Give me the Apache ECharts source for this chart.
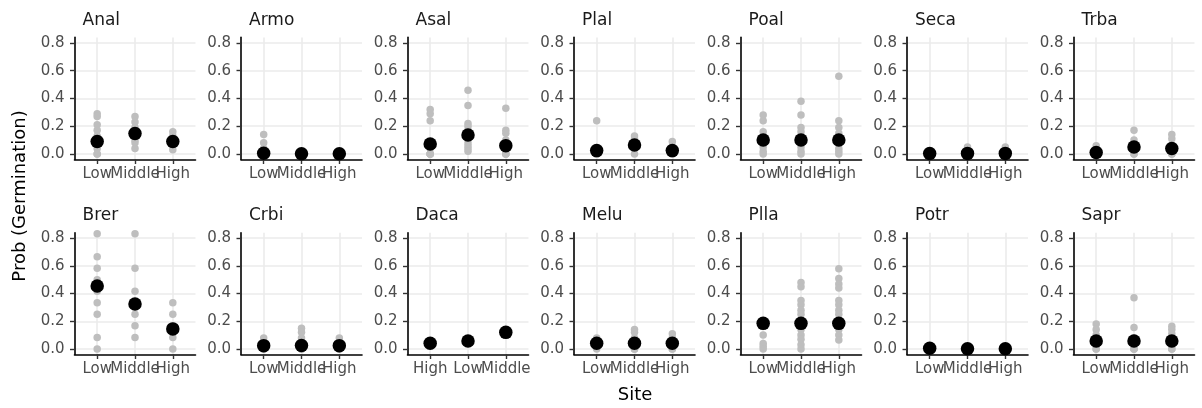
<!DOCTYPE html>
<html>
<head>
<meta charset="utf-8">
<script src="https://cdn.jsdelivr.net/npm/echarts@6/dist/echarts.min.js"></script>
<style>
  html, body { margin: 0; padding: 0; background: #ffffff; }
  #chart { width: 1202px; height: 408px; }
</style>
</head>
<body>
<div id="chart"></div>
<script>
// Species panels, laid out in two rows of seven
const species = ['Anal', 'Armo', 'Asal', 'Plal', 'Poal', 'Seca', 'Trba',
                 'Brer', 'Crbi', 'Daca', 'Melu', 'Plla', 'Potr', 'Sapr'];

// Site order on the x axis (Daca has its own level order)
const siteOrder = ['Low', 'Middle', 'High'];
const siteOrderDaca = ['High', 'Low', 'Middle'];

// y axis tick values
const yTicks = [0, 0.2, 0.4, 0.6, 0.8];

// Observed germination proportions, one list per site (in that panel's site order)
const Anal_obs = [[0.29, 0.27, 0.21, 0.17, 0.13, 0.08, 0.04, 0, 0],
                  [0.27, 0.23, 0.19, 0.17, 0.13, 0.10, 0.08, 0.04],
                  [0.16, 0.13, 0.11, 0.08, 0.06, 0.03]];
const Armo_obs = [[0.14, 0.08, 0.04, 0, 0, 0], [0, 0, 0], [0, 0, 0]];
const Asal_obs = [[0.32, 0.29, 0.24, 0.04, 0, 0, 0, 0],
                  [0.46, 0.35, 0.22, 0.20, 0.17, 0.14, 0.11, 0.08, 0.06, 0.04, 0.02],
                  [0.33, 0.17, 0.15, 0.10, 0.04, 0, 0, 0]];
const Plal_obs = [[0.24, 0, 0, 0, 0], [0.13, 0.11, 0.08, 0.06, 0.04, 0], [0.09, 0.04, 0, 0]];
const Poal_obs = [[0.28, 0.24, 0.16, 0.12, 0.08, 0.05, 0.02, 0],
                  [0.38, 0.28, 0.19, 0.16, 0.12, 0.05, 0.02, 0],
                  [0.56, 0.24, 0.19, 0.15, 0.10, 0.04, 0.02, 0]];
const Seca_obs = [[0, 0, 0], [0.05, 0, 0], [0.05, 0, 0]];
const Trba_obs = [[0.06, 0.02, 0, 0, 0], [0.17, 0.10, 0.08, 0.04, 0, 0], [0.14, 0.11, 0.06, 0.02, 0, 0]];
const Brer_obs = [[0.833, 0.667, 0.583, 0.5, 0.417, 0.333, 0.25, 0.083, 0],
                  [0.833, 0.583, 0.417, 0.333, 0.25, 0.167, 0.083],
                  [0.333, 0.25, 0.167, 0.083, 0]];
const Crbi_obs = [[0.08, 0.04, 0, 0], [0.15, 0.12, 0.08, 0.04, 0, 0, 0], [0.08, 0.04, 0, 0]];
const Daca_obs = [[0.04], [0.058], [0.12]];
const Melu_obs = [[0.08, 0.04, 0], [0.14, 0.12, 0.08, 0.04, 0, 0, 0], [0.11, 0.08, 0.04, 0, 0]];
const Plla_obs = [[0.10, 0.04, 0.02, 0],
                  [0.48, 0.45, 0.35, 0.32, 0.28, 0.25, 0.20, 0.14, 0.10, 0.07, 0.03, 0],
                  [0.58, 0.51, 0.47, 0.44, 0.35, 0.32, 0.28, 0.25, 0.20, 0.14, 0.10, 0.065]];
const Potr_obs = [[0, 0, 0], [0, 0, 0], [0, 0, 0]];
const Sapr_obs = [[0.18, 0.14, 0.10, 0.06, 0.03, 0, 0],
                  [0.37, 0.155, 0.08, 0.04, 0, 0, 0],
                  [0.165, 0.14, 0.11, 0.06, 0.03, 0, 0]];

// Estimated germination probability per site (black points)
const Anal_fit = [0.089, 0.148, 0.090];
const Armo_fit = [0.005, 0.002, 0.002];
const Asal_fit = [0.072, 0.136, 0.060];
const Plal_fit = [0.024, 0.065, 0.024];
const Poal_fit = [0.100, 0.100, 0.100];
const Seca_fit = [0.003, 0.004, 0.004];
const Trba_fit = [0.010, 0.050, 0.040];
const Brer_fit = [0.455, 0.325, 0.145];
const Crbi_fit = [0.024, 0.025, 0.024];
const Daca_fit = [0.041, 0.058, 0.120];
const Melu_fit = [0.041, 0.041, 0.041];
const Plla_fit = [0.185, 0.185, 0.185];
const Potr_fit = [0.005, 0.001, 0.001];
const Sapr_fit = [0.058, 0.058, 0.058];

const observed = { Anal: Anal_obs, Armo: Armo_obs, Asal: Asal_obs, Plal: Plal_obs, Poal: Poal_obs,
  Seca: Seca_obs, Trba: Trba_obs, Brer: Brer_obs, Crbi: Crbi_obs, Daca: Daca_obs, Melu: Melu_obs,
  Plla: Plla_obs, Potr: Potr_obs, Sapr: Sapr_obs };
const fitted = { Anal: Anal_fit, Armo: Armo_fit, Asal: Asal_fit, Plal: Plal_fit, Poal: Poal_fit,
  Seca: Seca_fit, Trba: Trba_fit, Brer: Brer_fit, Crbi: Crbi_fit, Daca: Daca_fit, Melu: Melu_fit,
  Plla: Plla_fit, Potr: Potr_fit, Sapr: Sapr_fit };

const FONT = "'DejaVu Sans', 'Liberation Sans', sans-serif";
const GRID_COLOR = '#ebebeb';
const X_MIN = -0.6, X_MAX = 2.6;

const grids = [], xAxes = [], yAxes = [], series = [], texts = [];

species.forEach((sp, i) => {
  const row = Math.floor(i / 7);
  const col = i % 7;
  const left = 74.5 + col * 166.5;
  const top = row === 0 ? 37.4 : 232.7;
  const height = row === 0 ? 122.1 : 121.8;
  const sites = sp === 'Daca' ? siteOrderDaca : siteOrder;

  grids.push({ left: left, top: top, width: 121, height: height, containLabel: false });

  // Main x axis: line, ticks and vertical grid lines
  const mainX = xAxes.length;
  xAxes.push({
    type: 'value', gridIndex: i, min: X_MIN, max: X_MAX, position: 'bottom',
    axisLine: { show: true, onZero: false, lineStyle: { color: '#000', width: 1.6 } },
    axisTick: { show: true, customValues: [0, 1, 2], length: 4.5, lineStyle: { color: '#333', width: 1.4 } },
    axisLabel: { show: false },
    splitLine: { show: true, lineStyle: { color: GRID_COLOR, width: 1.6 } }
  });
  // One label-only axis per site so the crowded site names all stay visible
  sites.forEach((name, k) => {
    xAxes.push({
      type: 'value', gridIndex: i, min: X_MIN, max: X_MAX, position: 'bottom', offset: 0,
      axisLine: { show: false, onZero: false },
      axisTick: { show: false },
      splitLine: { show: false },
      axisLabel: { customValues: [k], formatter: () => name,
                   color: '#4d4d4d', fontSize: 15, fontFamily: FONT, margin: 7.5,
                   showMinLabel: true, showMaxLabel: true }
    });
  });

  yAxes.push({
    type: 'value', gridIndex: i, min: -0.04, max: 0.84,
    axisLine: { show: true, onZero: false, lineStyle: { color: '#000', width: 1.6 } },
    axisTick: { show: true, customValues: yTicks, length: 4.5, lineStyle: { color: '#333', width: 1.4 } },
    axisLabel: { customValues: yTicks, formatter: v => v.toFixed(1),
                 color: '#4d4d4d', fontSize: 15, fontFamily: FONT, margin: 10,
                 showMinLabel: true, showMaxLabel: true },
    splitLine: { show: true, lineStyle: { color: GRID_COLOR, width: 1.6 } }
  });

  const obsPoints = [];
  observed[sp].forEach((vals, k) => vals.forEach(v => obsPoints.push([k, v])));
  series.push({
    type: 'scatter', xAxisIndex: mainX, yAxisIndex: i, data: obsPoints,
    symbolSize: 7.5, itemStyle: { color: '#bebebe', opacity: 1 }, silent: true, clip: false, z: 2
  });
  series.push({
    type: 'scatter', xAxisIndex: mainX, yAxisIndex: i, data: fitted[sp].map((v, k) => [k, v]),
    symbolSize: 13.5, itemStyle: { color: '#000000', opacity: 1 }, silent: true, clip: false, z: 3
  });

  texts.push({
    type: 'text', x: left + 8, y: row === 0 ? 21 : 216,
    style: { text: sp, font: '17px ' + FONT, fill: '#1a1a1a',
             align: 'left', verticalAlign: 'middle', textAlign: 'left', textVerticalAlign: 'middle' }
  });
});

// Axis titles
texts.push({
  type: 'text', x: 635, y: 395,
  style: { text: 'Site', font: '18px ' + FONT, fill: '#000',
           align: 'center', verticalAlign: 'middle', textAlign: 'center', textVerticalAlign: 'middle' }
});
texts.push({
  type: 'text', x: 20, y: 196, rotation: Math.PI / 2,
  style: { text: 'Prob (Germination)', font: '18px ' + FONT, fill: '#000',
           align: 'center', verticalAlign: 'middle', textAlign: 'center', textVerticalAlign: 'middle' }
});

const chart = echarts.init(document.getElementById('chart'), null, { renderer: 'canvas' });
chart.setOption({
  animation: false,
  backgroundColor: '#ffffff',
  grid: grids,
  xAxis: xAxes,
  yAxis: yAxes,
  series: series,
  graphic: { elements: texts }
});
</script>
</body>
</html>
